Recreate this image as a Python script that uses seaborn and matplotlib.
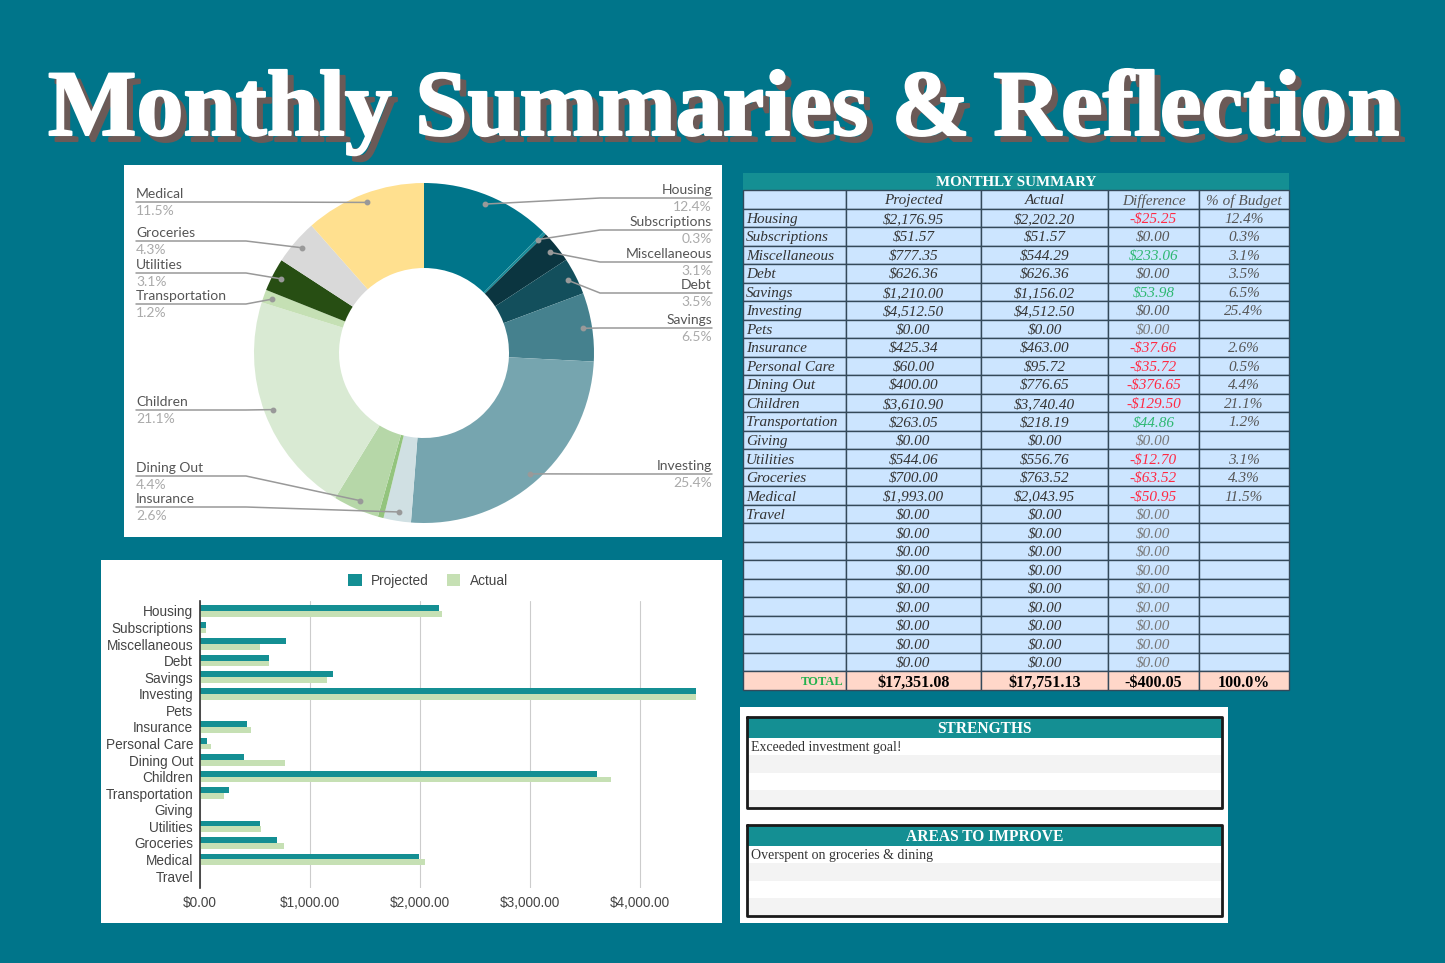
import matplotlib
matplotlib.use('Agg')
import matplotlib.pyplot as plt
import matplotlib.patheffects as pe
import numpy as np
import pandas as pd
import seaborn as sns

W, H = 1445, 963

categories = ['Housing', 'Subscriptions', 'Miscellaneous', 'Debt', 'Savings', 'Investing', 'Pets',
              'Insurance', 'Personal Care', 'Dining Out', 'Children', 'Transportation', 'Giving',
              'Utilities', 'Groceries', 'Medical', 'Travel']
projected = [2176.95, 51.57, 777.35, 626.36, 1210.00, 4512.50, 0, 425.34, 60.00, 400.00, 3610.90,
             263.05, 0, 544.06, 700.00, 1993.00, 0]
actual = [2202.20, 51.57, 544.29, 626.36, 1156.02, 4512.50, 0, 463.00, 95.72, 776.65, 3740.40,
          218.19, 0, 556.76, 763.52, 2043.95, 0]
blank_rows = 8

pie_colors = {'Housing': '#00758a', 'Subscriptions': '#1b8e9c', 'Miscellaneous': '#0b3540',
              'Debt': '#134f5c', 'Savings': '#45818e', 'Investing': '#76a5af', 'Insurance': '#d0e0e3',
              'Personal Care': '#93c47d', 'Dining Out': '#b6d7a8', 'Children': '#d9ead3',
              'Transportation': '#c5e0b4', 'Utilities': '#274e13', 'Groceries': '#d9d9d9',
              'Medical': '#ffe08f'}
# leader line height (px) of each pie label, Personal Care has none
pie_label_y = {'Housing': 198, 'Subscriptions': 230, 'Miscellaneous': 262, 'Debt': 293, 'Savings': 328,
               'Investing': 474, 'Insurance': 507, 'Dining Out': 476, 'Children': 410,
               'Transportation': 304, 'Utilities': 273, 'Groceries': 241, 'Medical': 202}

strengths_text = 'Exceeded investment goal!'
improve_text = 'Overspent on groceries & dining'

BG = '#00758a'
TEAL = '#148f93'
CELL = '#cce5ff'
LINE = '#34495a'

sns.set_theme(style='white')
plt.rcParams['font.family'] = ['Liberation Sans', 'DejaVu Sans']

fig = plt.figure(figsize=(W / 100, H / 100), dpi=100, facecolor=BG)


def ax_px(x0, y0, x1, y1, **kw):
    return fig.add_axes([x0 / W, 1 - y1 / H, (x1 - x0) / W, (y1 - y0) / H], **kw)


# overlays in pixel coords: panels below, leader lines and notes on top
bg = ax_px(0, 0, W, H)
top = ax_px(0, 0, W, H, zorder=10)
for a in (bg, top):
    a.set_xlim(0, W)
    a.set_ylim(H, 0)
    a.axis('off')

for x0, y0, x1, y1 in [(124, 165, 722, 537), (101, 560, 722, 923), (740, 707, 1228, 923)]:
    bg.fill_between([x0, x1], y0, y1, color='white', lw=0)

title = 'Monthly Summaries & Reflection'
serif = 'Liberation Serif'
bg.text(730, 141, title, color='#6b5a57', fontsize=67.5, fontweight='bold', family=serif, ha='center',
        va='baseline', path_effects=[pe.withStroke(linewidth=1.5, foreground='#6b5a57')])
bg.text(724, 135, title, color='white', fontsize=67.5, fontweight='bold', family=serif, ha='center',
        va='baseline', path_effects=[pe.withStroke(linewidth=1.5, foreground='white')])

# donut
actual_s = pd.Series(actual, index=categories)
pie_s = actual_s[actual_s > 0]
cx, cy, r = 424, 353, 170
ax = ax_px(cx - r, cy - r, cx + r, cy + r)
wedges, _ = ax.pie(pie_s.values, colors=[pie_colors[c] for c in pie_s.index], startangle=90,
                   counterclock=False, radius=1, wedgeprops={'width': 0.5, 'linewidth': 0})
ax.set_xlim(-1, 1)
ax.set_ylim(-1, 1)

for wedge, name, val in zip(wedges, pie_s.index, pie_s.values):
    if name not in pie_label_y:
        continue
    ang = np.deg2rad((wedge.theta1 + wedge.theta2) / 2)
    dx, dy = cx + 161 * np.cos(ang), cy - 161 * np.sin(ang)
    ly = pie_label_y[name]
    right = np.cos(ang) > 0
    elbow, end, ha = (600, 712, 'right') if right else (246, 136, 'left')
    top.plot([dx, elbow, end], [dy, ly, ly], color='#999999', lw=1.1)
    top.plot([dx], [dy], 'o', color='#999999', ms=3.2)
    top.text(end, ly - 2, name, color='#555555', fontsize=10, family='Lato', ha=ha, va='bottom')
    top.text(end, ly + 3, f'{val / actual_s.sum() * 100:.1f}%', color='#aaaaaa', fontsize=10,
             family='Lato', ha=ha, va='top')

# bars
df = pd.DataFrame({'category': categories, 'Projected': projected, 'Actual': actual})
long = df.melt(id_vars='category', var_name='series', value_name='amount')
ax = ax_px(200, 601, 700, 888)
sns.barplot(data=long, y='category', x='amount', hue='series', ax=ax, orient='h', width=0.7, gap=0,
            palette={'Projected': TEAL, 'Actual': '#c6e0b4'}, saturation=1, linewidth=0)
ax.set_xlim(0, 500 / 110 * 1000)
ax.set_ylim(16.72, -0.6)
ax.set_xlabel('')
ax.set_ylabel('')
ax.set_xticks([0, 1000, 2000, 3000, 4000], [f'${v:,.2f}' for v in [0, 1000, 2000, 3000, 4000]])
ax.grid(axis='x', color='#cccccc', lw=0.8)
ax.set_axisbelow(True)
sns.despine(ax=ax, top=True, right=True, bottom=True)
ax.spines['left'].set_color('#333333')
ax.spines['left'].set_linewidth(1.2)
ax.tick_params(axis='both', length=0, labelsize=9.8, labelcolor='#444444')
ax.tick_params(axis='y', pad=5)
ax.tick_params(axis='x', pad=6)
ax.legend(loc='center', bbox_to_anchor=(428 / W, 1 - 581 / H), bbox_transform=fig.transFigure, ncol=2,
          frameon=False, fontsize=9.8, labelcolor='#444444', handlelength=1, handleheight=1,
          handletextpad=0.7, columnspacing=1.3)

# summary table
diffs = [p - a for p, a in zip(projected, actual)]
total_a = sum(actual)


def money(v):
    return f'-${abs(v):,.2f}' if round(v, 2) < 0 else f'${abs(v):,.2f}'


rows = [['', 'Projected', 'Actual', 'Difference', '% of Budget']]
for c, p, a, d in zip(categories, projected, actual, diffs):
    rows.append([c, money(p), money(a), money(d), f'{a / total_a * 100:.1f}%' if a > 0 else ''])
for i in range(blank_rows):
    rows.append(['', '$0.00', '$0.00', '$0.00', ''])
rows.append(['TOTAL', money(sum(projected)), money(total_a), money(sum(diffs)), '100.0%'])

col_edges = np.array([743, 846, 981, 1108, 1199, 1289])
ax = ax_px(743, 173, 1289, 190)
ax.set_facecolor(TEAL)
ax.set_xticks([])
ax.set_yticks([])
sns.despine(ax=ax, left=True, bottom=True)
ax.text(0.5, 0.44, 'MONTHLY SUMMARY', transform=ax.transAxes, color='white', fontsize=10.8, fontweight='bold',
        family=serif, ha='center', va='center')

ax = ax_px(743, 190, 1289, 690)
ax.axis('off')
tbl = ax.table(cellText=rows, colWidths=list(np.diff(col_edges) / 546), bbox=[0, 0, 1, 1], cellLoc='center')
tbl.auto_set_font_size(False)
n = len(rows)
for (i, j), cell in tbl.get_celld().items():
    cell.set_facecolor('#ffd7c9' if i == n - 1 else CELL)
    cell.set_edgecolor(LINE)
    cell.set_linewidth(1)
    txt = cell.get_text()
    txt.set_family(serif)
    txt.set_style('italic')
    txt.set_fontsize(11)
    txt.set_color('#333333')
    txt.set_va('center_baseline')
    if j == 0:
        cell.PAD = 0.03
        cell._loc = 'left'
        txt.set_ha('left')
    if j >= 3:
        txt.set_color('#555555')
    if i > 0 and j == 3:
        s = rows[i][3]
        if s.startswith('-'):
            txt.set_color('#ff2a44')
        elif s != '$0.00':
            txt.set_color('#2eb872')
        elif rows[i][4] == '':
            txt.set_color('#777777')
    if i == n - 1:
        txt.set_style('normal')
        txt.set_fontweight('bold')
        txt.set_color('black')
        txt.set_fontsize(11.5)
        if j == 0:
            txt.set_color('#22b14c')
            txt.set_fontsize(9)
            txt.set_ha('right')
            cell._loc = 'right'


# strengths / improve boxes
def note_box(y0, heading, body):
    x0, x1 = 747, 1222
    bg.fill_between([x0, x1], y0, y0 + 21, color=TEAL, lw=0, zorder=3)
    for k, shade in enumerate(['white', '#f3f3f3', 'white', '#f3f3f3']):
        bg.fill_between([x0, x1], y0 + 21 + k * 17.5, y0 + 21 + (k + 1) * 17.5, color=shade, lw=0, zorder=3)
    bg.plot([x0, x1, x1, x0, x0], [y0, y0, y0 + 91, y0 + 91, y0], color='#1a1a1a', lw=2, zorder=4)
    bg.text((x0 + x1) / 2, y0 + 12, heading, color='white', fontsize=11.2, fontweight='bold', family=serif,
            ha='center', va='center', zorder=5)
    bg.text(x0 + 4, y0 + 31, body, color='#333333', fontsize=10, family=serif, ha='left', va='center', zorder=5)


note_box(717, 'STRENGTHS', strengths_text)
note_box(825, 'AREAS TO IMPROVE', improve_text)

fig.savefig('out.png', dpi=100, facecolor=BG)
